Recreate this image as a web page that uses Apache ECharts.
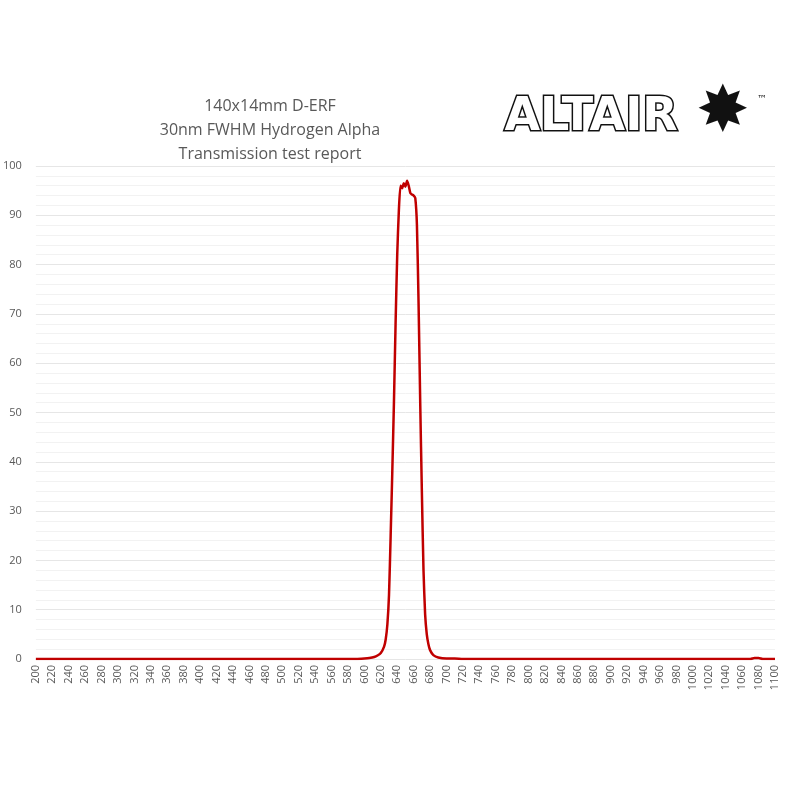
<!DOCTYPE html>
<html>
<head>
<meta charset="utf-8">
<script src="https://cdn.jsdelivr.net/npm/echarts@6/dist/echarts.min.js"></script>
<style>html,body{margin:0;padding:0;background:#fff}#chart{width:790px;height:790px}</style>
</head>
<body>
<div id="chart"></div>
<script>
const wavelength = [200, 300, 400, 500, 590, 600, 606, 612, 616, 620, 624, 626, 628, 630, 632, 634, 636, 638, 640, 642, 644, 646, 648, 650, 652, 654, 656, 658, 660, 662, 664, 666, 668, 670, 672, 674, 676, 678, 680, 684, 690, 700, 710, 720, 800, 900, 1000, 1070, 1075, 1080, 1085, 1100];
const transmission = [0, 0, 0, 0, 0, 0.1, 0.2, 0.4, 0.7, 1.2, 2.5, 4, 7, 13, 25, 38, 52, 68, 82, 91, 96, 95.5, 96.5, 95.8, 97, 96, 94.5, 94.2, 94, 93.5, 88, 72, 52, 34, 18, 9, 5, 3, 1.8, 0.8, 0.3, 0.1, 0.1, 0, 0, 0, 0, 0, 0.2, 0.2, 0, 0];
const titleLines = ['140x14mm D-ERF', '30nm FWHM Hydrogen Alpha', 'Transmission test report'];

const chart = echarts.init(document.getElementById('chart'));
const seriesData = wavelength.map((w, i) => [w, transmission[i]]);

chart.setOption({
    animation: false,
    title: {
        text: titleLines.join('\n'),
        left: 265,
        top: 89,
        textAlign: 'center',
        textStyle: {fontFamily: 'Open Sans', fontSize: 16, fontWeight: 'normal', color: '#595959', lineHeight: 24}
    },
    graphic: [{
        type: 'text',
        left: 503,
        top: 94,
        style: {text: 'ALTAIR', font: 'bold 46px "DejaVu Sans"', fill: '#fff', stroke: '#111', lineWidth: 3}
    }, {
        type: 'text',
        left: 696,
        top: 82,
        style: {text: '✸', font: '64px "DejaVu Sans"', fill: '#111'}
    }, {
        type: 'text',
        left: 757,
        top: 94,
        style: {text: '™', font: '10px "DejaVu Sans"', fill: '#111'}
    }],
    grid: {left: 33, right: 15, top: 166, bottom: 131},
    xAxis: {
        type: 'value',
        min: 200,
        max: 1100,
        interval: 20,
        axisLine: {show: false},
        axisTick: {show: false},
        splitLine: {show: false},
        axisLabel: {rotate: 90, fontSize: 11, color: '#595959', fontFamily: 'Open Sans', margin: 6, formatter: v => String(v)}
    },
    yAxis: {
        type: 'value',
        min: 0,
        max: 100,
        interval: 10,
        axisLine: {show: false},
        axisTick: {show: false},
        axisLabel: {fontSize: 11, color: '#595959', fontFamily: 'Open Sans', margin: 14},
        splitLine: {lineStyle: {color: '#e6e6e6'}},
        minorTick: {show: false, splitNumber: 5},
        minorSplitLine: {show: true, lineStyle: {color: '#f2f2f2'}}
    },
    series: [{
        type: 'line',
        data: seriesData,
        showSymbol: false,
        smooth: 0.2,
        lineStyle: {color: '#c00000', width: 2.5}
    }]
});
</script>
</body>
</html>
